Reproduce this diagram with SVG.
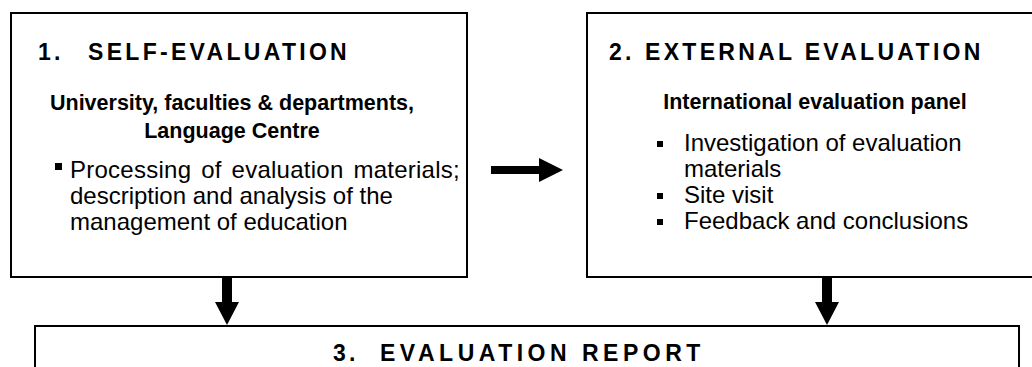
<svg xmlns="http://www.w3.org/2000/svg" width="1032" height="367" viewBox="0 0 1032 367">
<style>
.box{fill:#fff;stroke:#000;stroke-width:2}
.h{font-family:"Liberation Sans",Arial,sans-serif;font-weight:bold;font-size:23px;letter-spacing:3.3px;fill:#000}
.sub{font-family:"Liberation Sans",Arial,sans-serif;font-weight:bold;font-size:21.5px;fill:#000}
.t{font-family:"Liberation Sans",Arial,sans-serif;font-size:24px;fill:#000}
.bul{fill:#000}
.arr{fill:#000}
</style>
<rect width="1032" height="367" fill="#fff"/>
<g id="node-self-evaluation">
<rect class="box" x="11" y="13" width="456" height="264"/>
<text class="h" x="38" y="60">1.</text>
<text class="h" x="88" y="60">SELF-EVALUATION</text>
<text class="sub" x="232" y="110" text-anchor="middle">University, faculties &amp; departments,</text>
<text class="sub" x="232" y="138" text-anchor="middle">Language Centre</text>
<rect class="bul" x="55" y="163" width="7" height="7"/>
<text class="t" x="70" y="178" word-spacing="3" letter-spacing="0.25">Processing of evaluation materials;</text>
<text class="t" x="70" y="204">description and analysis of the</text>
<text class="t" x="70" y="230">management of education</text>
</g>
<g id="node-external-evaluation">
<rect class="box" x="587" y="13" width="460" height="264"/>
<text class="h" x="609" y="60">2.</text>
<text class="h" x="645" y="60">EXTERNAL EVALUATION</text>
<text class="sub" x="815" y="109" text-anchor="middle">International evaluation panel</text>
<rect class="bul" x="657" y="141" width="6" height="6"/>
<text class="t" x="684" y="151">Investigation of evaluation</text>
<text class="t" x="684" y="177">materials</text>
<rect class="bul" x="657" y="193" width="6" height="6"/>
<text class="t" x="684" y="203">Site visit</text>
<rect class="bul" x="657" y="219" width="6" height="6"/>
<text class="t" x="684" y="229">Feedback and conclusions</text>
</g>
<g id="node-evaluation-report">
<rect class="box" x="35" y="326" width="984" height="60"/>
<text class="h" x="333" y="361">3.</text>
<text class="h" x="380" y="361" style="letter-spacing:4.5px">EVALUATION REPORT</text>
</g>
<g id="connectors">
<path class="arr" d="M491,166 H539 V158 L563,170 L539,182 V174 H491 Z"/>
<path class="arr" d="M222,278 H232 V302 H239 L227,325 L215,302 H222 Z"/>
<path class="arr" d="M822,278 H832 V302 H839 L827,325 L815,302 H822 Z"/>
</g>
</svg>
